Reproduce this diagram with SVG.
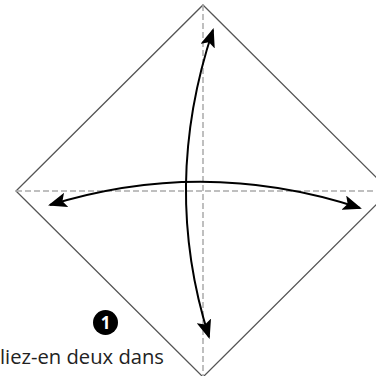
<svg xmlns="http://www.w3.org/2000/svg" width="376" height="376" viewBox="0 0 376 376">
<style>
.edge{fill:none;stroke:#555;stroke-width:1.3}
.fold{fill:none;stroke:#aaa;stroke-width:1.5;stroke-dasharray:6 3}
.arrow{fill:none;stroke:#000;stroke-width:2}
.txt{font-family:"Open Sans","Noto Sans",sans-serif;font-size:20.5px;fill:#222}
</style>
<defs>
<marker id="ah" viewBox="0 0 19 15" refX="17" refY="7.5" markerWidth="19" markerHeight="15" markerUnits="userSpaceOnUse" orient="auto-start-reverse">
<path d="M0,0 L19,7.5 L0,15 L4,7.5 Z" fill="#000"/>
</marker>
</defs>
<rect width="376" height="376" fill="#fff"/>
<g id="paper">
<path class="edge" d="M203,5 L390,191 L203,377 L16,191 Z"/>
</g>
<g id="folds">
<line class="fold" x1="203" y1="5" x2="203" y2="377"/>
<line class="fold" x1="16" y1="191" x2="376" y2="191"/>
</g>
<g id="connectors">
<path class="arrow" d="M213,30 Q161,186 209,337" marker-start="url(#ah)" marker-end="url(#ah)"/>
<path class="arrow" d="M50,205 Q205,157 360,208" marker-start="url(#ah)" marker-end="url(#ah)"/>
</g>
<g id="step">
<circle cx="105.5" cy="322.5" r="12.5" fill="#000"/>
<text x="105.5" y="328.5" text-anchor="middle" font-family="'Open Sans',sans-serif" font-weight="bold" font-size="17" fill="#fff">1</text>
</g>
<g id="label">
<text class="txt" x="0" y="364" textLength="164" lengthAdjust="spacingAndGlyphs">liez-en deux dans</text>
</g>
</svg>
